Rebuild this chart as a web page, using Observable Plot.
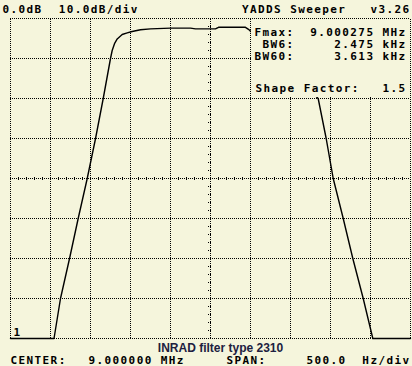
<!DOCTYPE html>
<html><head><meta charset="utf-8">
<script src="https://cdn.jsdelivr.net/npm/d3@7"></script>
<script src="https://cdn.jsdelivr.net/npm/@observablehq/plot@0.6"></script>
<style>
html,body{margin:0;padding:0;background:#F5F5DC;}
svg{display:block;}
</style></head><body><div id="chart"></div>
<script>
// Frequency offset from centre (Hz) and response level (dB)
const offsetHz = [-2500, -1956, -1875, -1762, -1654, -1541, -1437, -1341, -1250, -1229, -1200, -1166, -1104, -1041, -979, -875, -750, -500, -250, -187, 62, 100, 437, 475, 1346, 1446, 1534, 1659, 1779, 1909, 2029, 2500];
const levelDb  = [-80, -80, -70, -60, -50, -40, -30, -20, -10, -8, -6.3, -5.1, -4.0, -3.6, -3.25, -2.8, -2.6, -2.4, -2.4, -2.6, -2.6, -2.2, -2.2, -2.7, -20, -30, -40, -50, -60, -70, -80, -80];

const xGridHz = d3.range(-2500, 2501, 500);
const yGridDb = d3.range(-80, 1, 10);
const minorXHz = d3.range(-2500, 2501, 100);
const minorYDb = d3.range(-80, 1, 2);

const headerLeft = ["0.0dB  10.0dB/div"];
const headerRight = ["YADDS Sweeper   v3.26"];
const boxLabels = ["Fmax:", "BW6:", "BW60:"];
const boxValues = ["9.000275 MHz", "2.475 kHz", "3.613 kHz"];
const shapeLabel = ["Shape Factor:"];
const shapeValue = ["1.5"];
const traceLabel = ["1"];
const titleText = ["INRAD filter type 2310"];
const footerItems = ["CENTER:", "9.000000 MHz", "SPAN:", "500.0"];
const footerRight = ["Hz/div"];

const curve = offsetHz.map((f, i) => ({f, db: levelDb[i]}));
const bg = "#F5F5DC";
const mono = {fontFamily: "DejaVu Sans Mono", fontWeight: "bold", fontSize: 11, fill: "black", lineAnchor: "bottom"};
const footerDx = [0, 78, 216, 296];
const boxDy = [17.5, 29.5, 41.5];

const chart = Plot.plot({
  width: 412, height: 366,
  marginLeft: 10, marginRight: 2, marginTop: 18, marginBottom: 28,
  style: {background: bg},
  x: {domain: [-2500, 2500], axis: null},
  y: {domain: [-80, 0], axis: null},
  marks: [
    Plot.ruleX(xGridHz, {x: d => d, y1: -80, y2: 0, stroke: "black", strokeDasharray: "1,1", strokeWidth: 1}),
    Plot.ruleY(yGridDb, {y: d => d, x1: -2500, x2: 2500, stroke: "black", strokeDasharray: "1,1", strokeWidth: 1}),
    Plot.ruleY(minorYDb, {y: d => d, x1: -25, x2: 25, stroke: "black", strokeDasharray: "1,1"}),
    Plot.ruleX(minorXHz, {x: d => d, y1: -40.5, y2: -39.5, stroke: "black", strokeDasharray: "1,1"}),
    Plot.line(curve, {x: "f", y: "db", stroke: "black", strokeWidth: 1.4}),
    Plot.rect([0], {x1: 500, x2: 2500, y1: -20, y2: 0, fill: bg, inset: 1}),
    Plot.text(headerLeft, {...mono, frameAnchor: "top-left", textAnchor: "start", dx: -8, dy: -6}),
    Plot.text(headerRight, {...mono, frameAnchor: "top-right", textAnchor: "end", dx: 0, dy: -6}),
    ...boxLabels.map((t, i) => Plot.text([t], {...mono, frameAnchor: "top-right", textAnchor: "end", dx: -116, dy: boxDy[i]})),
    ...boxValues.map((t, i) => Plot.text([t], {...mono, frameAnchor: "top-right", textAnchor: "end", dx: -4, dy: boxDy[i]})),
    Plot.text(shapeLabel, {...mono, frameAnchor: "top-right", textAnchor: "start", dx: -155, dy: 73}),
    Plot.text(shapeValue, {...mono, frameAnchor: "top-right", textAnchor: "end", dx: -4, dy: 73}),
    Plot.text(traceLabel, {...mono, frameAnchor: "bottom-left", textAnchor: "start", dx: 3, dy: -3}),
    Plot.text(titleText, {fontFamily: "Liberation Sans", fontWeight: "bold", fontSize: 12, fill: "#202040", lineAnchor: "bottom", frameAnchor: "bottom", textAnchor: "middle", dx: 10, dy: 13}),
    ...footerItems.map((t, i) => Plot.text([t], {...mono, frameAnchor: "bottom-left", textAnchor: "start", dx: footerDx[i], dy: 25})),
    Plot.text(footerRight, {...mono, frameAnchor: "bottom-right", textAnchor: "end", dx: 0, dy: 25})
  ]
});
d3.select(chart).selectAll("text")
  .filter(function() { return this.textContent !== titleText[0]; })
  .style("letter-spacing", "1.4px");
document.getElementById("chart").append(chart);
</script>
</body></html>
